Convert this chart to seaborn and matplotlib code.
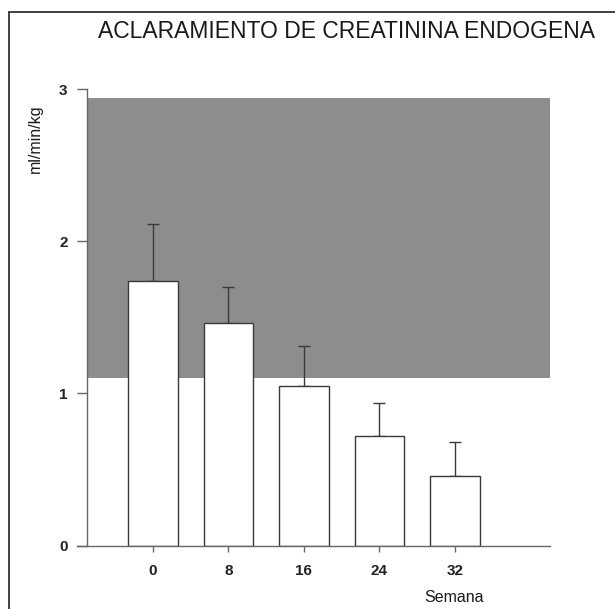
import matplotlib
matplotlib.use("Agg")
import matplotlib.pyplot as plt
from matplotlib.lines import Line2D
import pandas as pd
import seaborn as sns

# %% DATA
semanas = ["0", "8", "16", "24", "32"]
aclaramiento = [1.74, 1.46, 1.05, 0.72, 0.46]  # ml/min/kg
error_sup = [0.37, 0.24, 0.26, 0.22, 0.22]
rango_normal = [1.10, 2.94]
y_ticks = [0, 1, 2, 3]

df = pd.DataFrame({"Semana": semanas, "ml/min/kg": aclaramiento})

# %% STYLE
sns.set_style("ticks")
plt.rcParams["font.family"] = ["Liberation Sans", "DejaVu Sans"]
ink = "#3a3a3a"

W, H = 615, 609
fig = plt.figure(figsize=(W / 100, H / 100), dpi=100)
ax = fig.add_axes([87 / W, 1 - 545.7 / H, 463 / W, 456.7 / H])

# Normal range band
ax.axhspan(rango_normal[0], rango_normal[1], color="#8d8d8d", lw=0, zorder=0)

# Bars
sns.barplot(
    data=df, x="Semana", y="ml/min/kg", color="white", saturation=1,
    edgecolor=ink, linewidth=1, width=0.66, errorbar=None, ax=ax, zorder=2,
)
ax.errorbar(
    range(len(semanas)), aclaramiento, yerr=[[0] * len(semanas), error_sup],
    fmt="none", ecolor=ink, elinewidth=1, capsize=4, capthick=1, zorder=1,
)

# Axes
ax.set_xlim(-0.874, 5.26)
ax.set_ylim(0, 3)
ax.set_yticks(y_ticks)
ax.set_xlabel("")
ax.set_ylabel("")
for s in ["top", "right"]:
    ax.spines[s].set_visible(False)
for s in ["left", "bottom"]:
    ax.spines[s].set_color("#666666")
    ax.spines[s].set_linewidth(1)
ax.spines["bottom"].set_bounds(-0.874 - 10 / 75.5, 5.26)
ax.tick_params(axis="y", length=7, width=1, color="#666666", pad=7,
               labelsize=11, labelcolor="#222222")
ax.tick_params(axis="x", length=4.3, width=1, color="#666666", pad=9,
               labelsize=11, labelcolor="#222222")
for lab in ax.get_xticklabels() + ax.get_yticklabels():
    lab.set_fontweight("bold")

# Texts
fig.text(347 / W, 1 - 31 / H, "ACLARAMIENTO DE CREATININA ENDOGENA",
         ha="center", va="center", fontsize=16.5, color="#1a1a1a")
fig.text(454 / W, 1 - 597 / H, "Semana", ha="center", va="center",
         fontsize=11.5, color="#1a1a1a")
fig.text(35 / W, 1 - 139 / H, "ml/min/kg", ha="center", va="center",
         rotation=90, fontsize=11.5, color="#1a1a1a")

# Page frame (left and top edges)
fig.add_artist(Line2D([9 / W, 9 / W], [0, 1 - 12 / H], transform=fig.transFigure,
                      color="#333333", lw=1.3))
fig.add_artist(Line2D([9 / W, 1], [1 - 12 / H, 1 - 12 / H], transform=fig.transFigure,
                      color="#333333", lw=1.3))

fig.savefig("out.png", dpi=100)
